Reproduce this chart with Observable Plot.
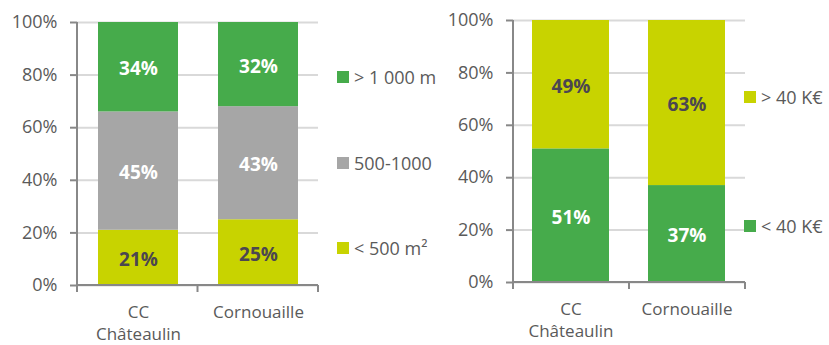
<!DOCTYPE html>
<html><head><meta charset="utf-8">
<script src="https://cdn.jsdelivr.net/npm/d3@7"></script>
<script src="https://cdn.jsdelivr.net/npm/@observablehq/plot@0.6"></script>
<style>
body{margin:0;background:#fff;font-family:"Open Sans",sans-serif;}
#wrap{position:relative;width:829px;height:345px;overflow:hidden;}
.plot{position:absolute;top:0;}
.leg{position:absolute;display:flex;align-items:center;font-size:18px;color:#5a5a5a;white-space:nowrap;height:24px;}
.leg .sw{display:inline-block;width:12px;height:12px;margin-right:5px;}
</style></head><body><div id="wrap"></div>
<script>
const categories = ["CC\nChâteaulin", "Cornouaille"];
const surfaceSeries = ["< 500 m²", "500-1000", "> 1 000 m"];
const surfaceSmall = [21, 25];
const surfaceMid = [45, 43];
const surfaceLarge = [34, 32];
const incomeSeries = ["< 40 K€", "> 40 K€"];
const incomeLow = [51, 37];
const incomeHigh = [49, 63];
const yTicks = [0, 20, 40, 60, 80, 100];

const GREEN = "#46ab4b", GRAY = "#a6a6a6", YELLOW = "#c8d300";
const TEXT = "#5a5a5a", DARK = "#4b4650", AXIS = "#888888", GRID = "#d9d9d9";

function rows(series, valueArrays) {
  const out = [];
  categories.forEach((c, i) => series.forEach((s, j) => out.push({cat: c, series: s, value: valueArrays[j][i]})));
  return out;
}

function axisLines() {
  return (index, scales, values, dims) => {
    const {width, height, marginLeft: ml, marginRight: mr, marginTop: mt, marginBottom: mb} = dims;
    const g = d3.create("svg:g").attr("stroke", AXIS).attr("stroke-width", 2).attr("fill", "none");
    const y0 = height - mb, x0 = ml, x1 = width - mr;
    g.append("line").attr("x1", x0).attr("x2", x0).attr("y1", mt).attr("y2", y0 + 7);
    g.append("line").attr("x1", x0).attr("x2", x1).attr("y1", y0).attr("y2", y0);
    for (const x of [x0, (x0 + x1) / 2, x1])
      g.append("line").attr("x1", x).attr("x2", x).attr("y1", y0).attr("y2", y0 + 7);
    return g.node();
  };
}

function chart(data, series, colors, labelColors, w, m) {
  return Plot.plot({
    width: w, height: 345,
    marginLeft: m[0], marginRight: m[1], marginTop: m[2], marginBottom: m[3],
    style: {fontFamily: "Open Sans, sans-serif", fontSize: "18px", color: TEXT, background: "white"},
    x: {domain: categories, paddingInner: 0.336, paddingOuter: 0.168, label: null},
    y: {domain: [0, 100], label: null},
    color: {domain: series, range: colors},
    marks: [
      Plot.gridY(yTicks, {stroke: GRID, strokeOpacity: 1, strokeWidth: 2}),
      Plot.barY(data, {x: "cat", y: "value", z: "series", fill: "series"}),
      Plot.text(data, Plot.stackY({
        x: "cat", y: "value", z: "series",
        text: d => d.value + "%",
        fill: d => labelColors[series.indexOf(d.series)],
        fontWeight: "bold", fontSize: 19, dy: 2
      })),
      Plot.axisY(yTicks, {tickFormat: d => d + "%", tickSize: 7, tickPadding: 13, stroke: AXIS, strokeWidth: 2, fill: TEXT, fontSize: 18}),
      Plot.axisX({tickSize: 0, tickPadding: 16, fontSize: 17, lineHeight: 1.33, fill: TEXT}),
      axisLines()
    ]
  });
}

const wrap = document.getElementById("wrap");

const p1 = chart(rows(surfaceSeries, [surfaceSmall, surfaceMid, surfaceLarge]), surfaceSeries,
  [YELLOW, GRAY, GREEN], [DARK, "white", "white"], 420, [77, 102, 22, 60]);
p1.classList.add("plot"); p1.style.left = "0px";
wrap.appendChild(p1);

const p2 = chart(rows(incomeSeries, [incomeLow, incomeHigh]), incomeSeries,
  [GREEN, YELLOW], ["white", DARK], 409, [93, 84, 20, 63]);
p2.classList.add("plot"); p2.style.left = "420px";
wrap.appendChild(p2);

function legend(label, color, left, cy) {
  const d = document.createElement("div");
  d.className = "leg";
  d.style.left = left + "px";
  d.style.top = (cy - 12) + "px";
  const sw = document.createElement("span");
  sw.className = "sw"; sw.style.background = color;
  d.appendChild(sw);
  d.appendChild(document.createTextNode(label));
  wrap.appendChild(d);
}
legend(surfaceSeries[2], GREEN, 337, 77);
legend(surfaceSeries[1], GRAY, 337, 163);
legend(surfaceSeries[0], YELLOW, 337, 248);
legend(incomeSeries[1], YELLOW, 744, 97);
legend(incomeSeries[0], GREEN, 744, 226);
</script></body></html>
